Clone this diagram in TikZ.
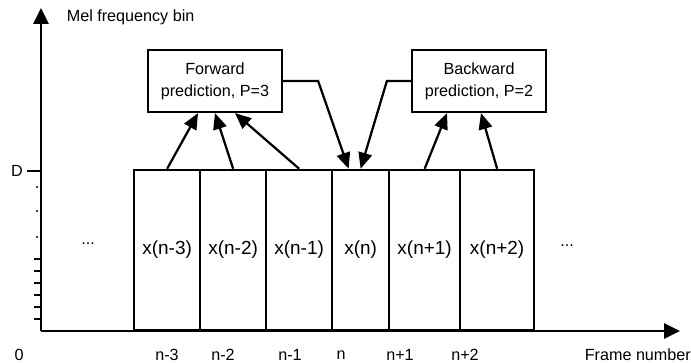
\documentclass[tikz,border=0pt]{standalone}
\usepackage{fontspec}
\setmainfont{Liberation Sans}
\usetikzlibrary{arrows.meta}

\begin{document}
\begin{tikzpicture}[>={Triangle[length=0.4cm,width=0.34cm]},line width=1.6pt,
  font=\fontsize{11.5}{15.5}\selectfont,
  frame/.style={draw,anchor=south west,minimum height=4cm,inner sep=0pt,
    font=\fontsize{13.5}{15}\selectfont},
  predbox/.style={draw,minimum width=3.35cm,minimum height=1.55cm,align=center,inner sep=0pt}]
\useasboundingbox (-1.025,-0.8) rectangle (16.25,8.275);
%
% Achsen
\draw[->,>={Triangle[length=0.4cm,width=0.38cm]}] (0,0) -- (0,8.075);
\draw[->,>={Triangle[length=0.4cm,width=0.38cm]}] (0,0) -- (15.975,0);
\node[anchor=west] (melaxis) at (0.5,7.85) {Mel frequency bin};
\node[anchor=west] (frameaxis) at (13.45,-0.6) {Frame number};
% Mel-Bins an der y-Achse
\draw (-0.35,4) -- (0,4);
\node (dlabel) at (-0.6,4) {D};
\foreach \y in {0.3,0.6,0.9,1.2,1.5,1.8}
  \draw (-0.175,\y) -- (0,\y);
\foreach \y in {2.35,3.0,3.6}
  \fill (-0.1,\y) circle (0.03);
%
% Rahmen x(n-3) ... x(n+2)
\foreach \l/\r/\name/\txt in {2.3/3.95/xm3/x(n-3), 3.95/5.6/xm2/x(n-2),
    5.6/7.25/xm1/x(n-1), 7.25/8.675/xn/x(n), 8.675/10.45/xp1/x(n+1),
    10.45/12.3/xp2/x(n+2)}
  \node[frame,minimum width={(\r-\l)*1cm}] (\name) at (\l,0) {\txt};
\node (dotsl) at (1.175,2.175) {...};
\node (dotsr) at (13.15,2.125) {...};
% Rahmennummern
\foreach \x/\t [count=\i] in {-0.55/0, 3.15/n-3, 4.55/n-2, 6.225/n-1,
    7.5/n, 8.975/n+1, 10.6/n+2}
  \node (num\i) at (\x,-0.6) {\t};
%
% Vorhersage
\node[predbox] (fwd) at (4.35,6.25) {Forward\\prediction, P=3};
\node[predbox] (bwd) at (10.95,6.25) {Backward\\prediction, P=2};
\draw[->] (xm3.north) -- ([xshift=-0.425cm]fwd.south);
\draw[->] (xm2.north) -- (fwd.south);
\draw[->] (xm1.north) -- ([xshift=0.5cm]fwd.south);
\draw[->] (xp1.north) -- ([xshift=-0.8cm]bwd.south);
\draw[->] (xp2.north) -- ([xshift=0.05cm]bwd.south);
\draw[->] (fwd.east) -- ++(0.875,0) -- ([xshift=-0.3cm]xn.north);
\draw[->] (bwd.west) -- ++(-0.6,0) -- (xn.north);
\end{tikzpicture}
\end{document}
